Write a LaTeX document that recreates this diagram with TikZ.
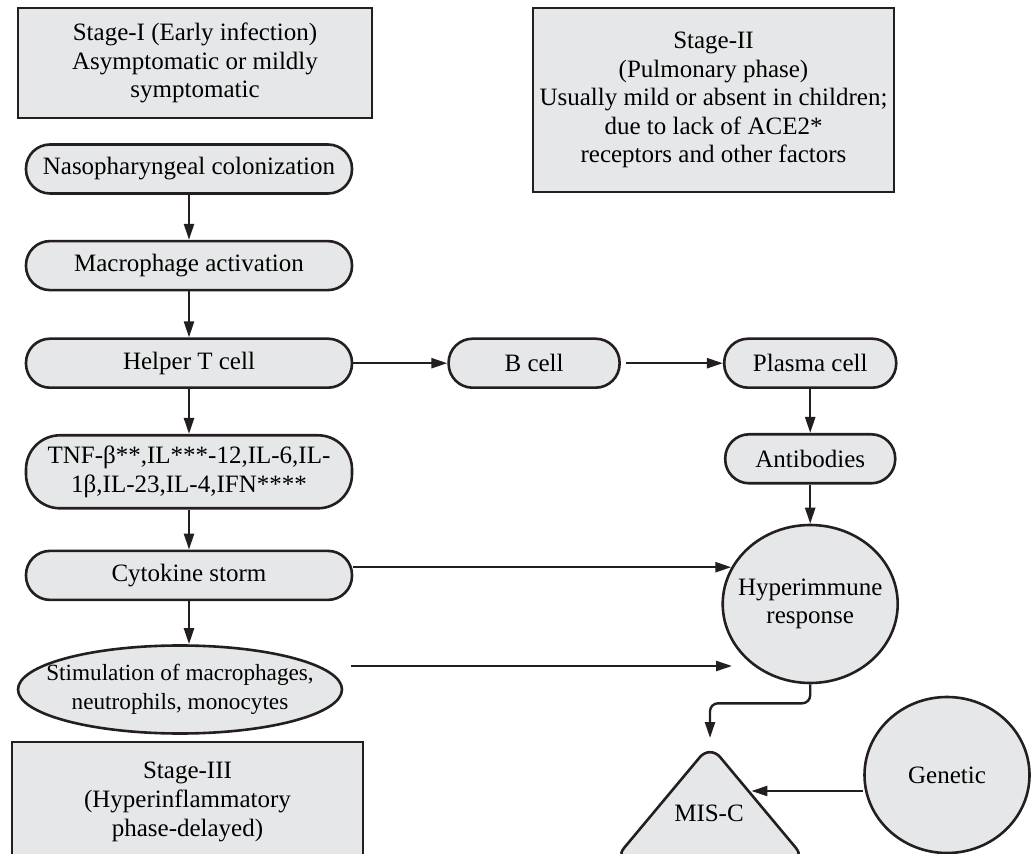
\documentclass[tikz,border=0pt]{standalone}
\usepackage{fontspec}
\setmainfont{Liberation Serif}
\usetikzlibrary{shapes.geometric,arrows.meta,positioning,calc}
\definecolor{boxgray}{RGB}{230,231,232}
\definecolor{inkdark}{RGB}{35,31,32}
\newcommand{\flowfont}{\fontsize{12.5}{14.3}\selectfont}

\begin{document}
\begin{tikzpicture}[x=0.5pt, y=-0.5pt,
  stagebox/.style={rectangle, draw=inkdark, fill=boxgray, line width=1.3pt,
    align=center, font=\flowfont},
  flow/.style={rectangle, rounded corners=12pt, draw=inkdark, fill=boxgray, line width=1.3pt,
    minimum width=163pt, minimum height=24.5pt, inner sep=2pt, align=center, font=\flowfont},
  oval/.style={ellipse, draw=inkdark, fill=boxgray, line width=1.3pt,
    align=center, font=\flowfont},
  arr/.style={-{Triangle[length=8pt,width=5pt]}, inkdark, line width=1.2pt}]
\useasboundingbox (0,0) rectangle (1032,854);
\clip (0,0) rectangle (1032,854);

% stage boxes
\node[stagebox, minimum width=177pt, minimum height=55pt] (stage1) at (195,63)
  {Stage-I (Early infection)\\Asymptomatic or mildly\\symptomatic};
\node[stagebox, minimum width=173.5pt, minimum height=92pt] (stage2) at (713.5,100)
  {Stage-II\\(Pulmonary phase)\\Usually mild or absent in children;\\due to lack of ACE2*\\receptors and other factors};
\node[stagebox, minimum width=175.5pt, minimum height=60pt] (stage3) at (187.5,802)
  {Stage-III\\(Hyperinflammatory\\phase-delayed)};

% left column
\node[flow] (naso) at (189,169) {Nasopharyngeal colonization};
\node[flow, below=22.5pt of naso] (macro) {Macrophage activation};
\node[flow, below=23pt of macro] (helper) {Helper T cell};
\node[flow, below=22.5pt of helper, minimum height=36.5pt, rounded corners=17pt] (tnf)
  {TNF-β**,IL***-12,IL-6,IL-\\1β,IL-23,IL-4,IFN****};
\node[flow, below=20pt of tnf] (cyto) {Cytokine storm};
\node[oval, below=21.5pt of cyto, xshift=-4.5pt, minimum width=162pt, minimum height=44pt,
  inner xsep=-15pt, inner ysep=0pt, font=\fontsize{11.6}{14.6}\selectfont] (stim)
  {Stimulation of macrophages,\\neutrophils, monocytes};

% right side
\node[flow, minimum width=85.5pt, right=47pt of helper] (bcell) {B cell};
\node[flow, minimum width=86pt, right=51pt of bcell] (plasma) {Plasma cell};
\node[flow, minimum width=85pt, below=22pt of plasma] (antib) {Antibodies};
\node[oval, minimum width=87.5pt, minimum height=79pt, inner xsep=-6pt] (hyper) at (plasma |- 0,604)
  {Hyperimmune\\response};
\node[oval, minimum width=82.5pt, minimum height=78pt] (genetic) at (947,775) {Genetic};

% MIS-C triangle
\coordinate (mtop) at (710,745);
\coordinate (mright) at (806,860);
\coordinate (mleft) at (614,860);
\draw[inkdark, fill=boxgray, line width=1.3pt, rounded corners=8pt]
  ($(mleft)!0.5!(mright)$) -- (mright) -- (mtop) -- (mleft) -- cycle;
\node[font=\flowfont] (misc) at (709,813) {MIS-C};

% connectors
\draw[arr] (naso) -- (macro);
\draw[arr] (macro) -- (helper);
\draw[arr] (helper) -- (tnf);
\draw[arr] (tnf) -- (cyto);
\draw[arr] (cyto.south) -- (cyto.south |- stim.north);
\draw[arr] (helper) -- (bcell);
\draw[arr, shorten <=2.5pt] (bcell) -- (plasma);
\draw[arr] (plasma) -- (antib);
\draw[arr] (antib) -- (hyper);
\draw[arr] (cyto.east |- hyper.155) -- (hyper.155);
\coordinate (stimend) at (732,666);
\draw[arr] ($(stim.east |- stimend)+(8,0)$) -- (stimend);
\draw[arr, rounded corners=4pt, shorten >=3.5pt] (hyper.south) -- ++(0,19) -| (mtop);
\coordinate (gtip) at ($(mtop)!0.4!(mright)$);
\draw[arr, shorten >=1.5pt] (genetic.west |- gtip) -- (gtip);
\end{tikzpicture}
\end{document}
